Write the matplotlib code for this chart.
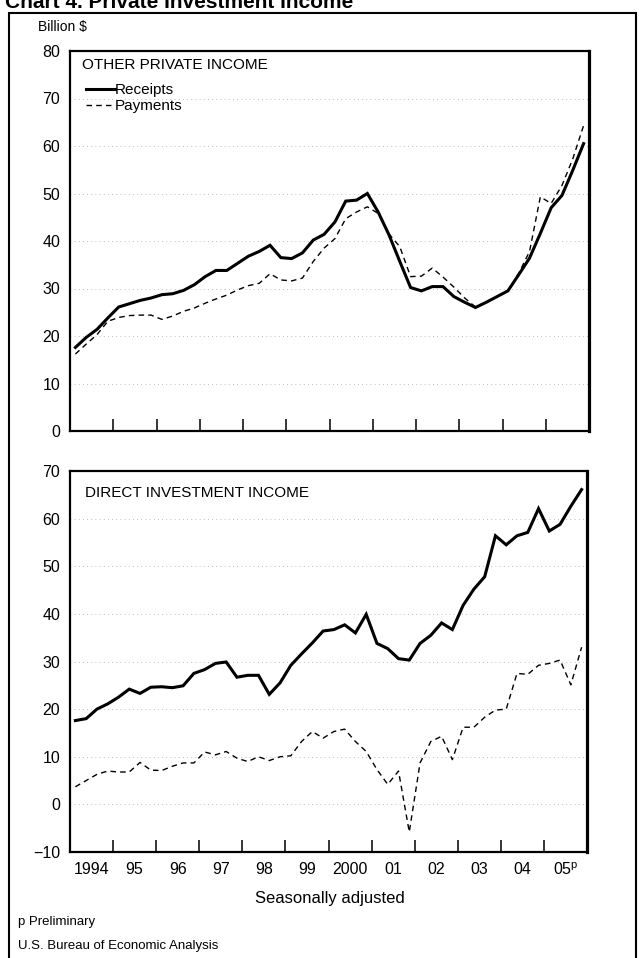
import numpy as np
import matplotlib
matplotlib.use('Agg')
import matplotlib.pyplot as plt
from matplotlib.patches import Rectangle

plt.rcParams['font.family'] = ['Liberation Sans', 'DejaVu Sans']
plt.rcParams['axes.unicode_minus'] = True
NARROW = ['Liberation Sans Narrow', 'Liberation Sans', 'DejaVu Sans']

# quarterly data, 1994:I - 2005:IV, billions of dollars
years = list(range(1994, 2006))
quarters = [1, 2, 3, 4]
year_labels = ['1994', '95', '96', '97', '98', '99', '2000', '01', '02', '03', '04', '05$^{\\mathregular{p}}$']

other_receipts = [17.6, 19.7, 21.4, 23.8, 26.1, 26.8, 27.5, 28.0, 28.7, 28.9,
                  29.6, 30.8, 32.5, 33.8, 33.8, 35.3, 36.8, 37.8, 39.1, 36.5,
                  36.3, 37.5, 40.2, 41.4, 44.0, 48.4, 48.6, 50.0, 46.1, 41.3,
                  35.7, 30.2, 29.5, 30.4, 30.4, 28.3, 27.1, 26.0, 27.1, 28.3,
                  29.5, 32.9, 36.4, 41.6, 47.0, 49.6, 54.9, 60.5]
other_payments = [16.2, 18.3, 20.3, 23.1, 23.9, 24.3, 24.4, 24.4, 23.5, 24.2,
                  25.2, 25.9, 26.9, 27.8, 28.6, 29.7, 30.6, 31.1, 33.1, 31.8,
                  31.6, 32.2, 35.7, 38.5, 40.5, 44.7, 46.1, 47.2, 45.8, 41.5,
                  38.8, 32.5, 32.6, 34.3, 32.4, 30.3, 28.0, 26.1, 27.2, 28.3,
                  29.6, 33.2, 37.8, 49.3, 47.9, 51.7, 57.3, 64.3]
direct_receipts = [17.6, 18.0, 20.0, 21.1, 22.5, 24.2, 23.3, 24.6, 24.7, 24.5,
                   24.9, 27.5, 28.3, 29.6, 29.9, 26.7, 27.1, 27.1, 23.1, 25.5,
                   29.2, 31.6, 33.9, 36.4, 36.7, 37.7, 36.0, 39.9, 33.8, 32.7,
                   30.6, 30.3, 33.8, 35.5, 38.1, 36.7, 41.8, 45.2, 47.8, 56.4,
                   54.5, 56.4, 57.1, 62.1, 57.4, 58.8, 62.6, 66.1]
direct_payments = [3.7, 5.0, 6.3, 7.0, 6.8, 6.8, 8.8, 7.2, 7.1, 8.0,
                   8.7, 8.7, 11.0, 10.4, 11.1, 9.7, 9.0, 10.0, 9.2, 10.0,
                   10.2, 13.2, 15.3, 13.9, 15.3, 15.8, 13.2, 11.1, 7.3, 4.2,
                   7.0, -5.8, 8.7, 13.2, 14.3, 9.4, 16.2, 16.2, 18.3, 19.8,
                   20.0, 27.5, 27.3, 29.2, 29.6, 30.3, 25.1, 33.0]

W, H = 639, 958
fig = plt.figure(figsize=(W / 100, H / 100), dpi=100)

# x position of each quarter (mid-quarter)
xq = np.array([y + (q - 1) / 4 + 0.125 for y in years for q in quarters])


def add_panel(left, top, right, bottom):
    ax = fig.add_axes([left / W, 1 - bottom / H, (right - left) / W, (bottom - top) / H])
    return ax


def style_panel(ax, ymin, ymax):
    ax.set_xlim(1994, 2006)
    ax.set_ylim(ymin, ymax)
    ax.set_yticks(range(ymin, ymax + 1, 10))
    ax.set_xticks(range(1995, 2006))
    ax.tick_params(axis='x', which='major', direction='in', length=8.5, width=1.1,
                   labelbottom=False)
    ax.tick_params(axis='y', length=0, pad=7, labelsize=11.5)
    for s in ['left', 'top', 'bottom']:
        ax.spines[s].set_linewidth(1.6)
    ax.spines['right'].set_linewidth(2.3)
    for v in range(ymin + 10, ymax, 10):
        ax.axhline(v, color='#a8a8a8', lw=0.6, ls=(0, (1, 4)), zorder=0)


def draw_series(ax, receipts, payments):
    ax.plot(xq, receipts, color='black', lw=2.2, solid_joinstyle='miter', label='Receipts')
    ax.plot(xq, payments, color='black', lw=1.0, ls=(0, (4, 3)), label='Payments')


# frame round the whole chart, title clipped at the top as in the scan
fig.add_artist(Rectangle((9 / W, -0.05), 627 / W, 1.05 - 13 / H, transform=fig.transFigure,
                         fill=False, lw=1.5, edgecolor='black'))
fig.text(5 / W, 1 - 8 / H, 'Chart 4. Private Investment Income', fontsize=15,
         fontweight='bold', va='baseline', ha='left')
fig.text(38 / W, 1 - 27 / H, 'Billion $', fontsize=10, family=NARROW, va='center', ha='left')

# top panel
ax1 = add_panel(70, 51, 589, 431)
style_panel(ax1, 0, 80)
draw_series(ax1, other_receipts, other_payments)
ax1.text(0.023, 0.963, 'OTHER PRIVATE INCOME', transform=ax1.transAxes, fontsize=11,
         family=NARROW, va='center', ha='left')
leg = ax1.legend(loc='upper left', bbox_to_anchor=(0.031, 0.915), frameon=False,
                 handlelength=1.9, handletextpad=0.0, labelspacing=0.12, borderpad=0,
                 borderaxespad=0, prop={'family': NARROW, 'size': 11})

# bottom panel
ax2 = add_panel(70, 471, 587, 852)
style_panel(ax2, -10, 70)
draw_series(ax2, direct_receipts, direct_payments)
ax2.text(0.029, 0.943, 'DIRECT INVESTMENT INCOME', transform=ax2.transAxes, fontsize=11,
         family=NARROW, va='center', ha='left')
ax2.set_xticks([y + 0.5 for y in years], minor=True)
ax2.set_xticklabels(year_labels, minor=True)
ax2.tick_params(axis='x', which='minor', length=0, pad=7, labelsize=11.5)

fig.text(330 / W, 1 - 898 / H, 'Seasonally adjusted', fontsize=12, va='center', ha='center')
fig.text(18 / W, 1 - 922 / H, 'p Preliminary', fontsize=9.5, family=NARROW, va='center', ha='left')
fig.text(18 / W, 1 - 946 / H, 'U.S. Bureau of Economic Analysis', fontsize=9.5, family=NARROW,
         va='center', ha='left')

fig.savefig('out.png', dpi=100)
